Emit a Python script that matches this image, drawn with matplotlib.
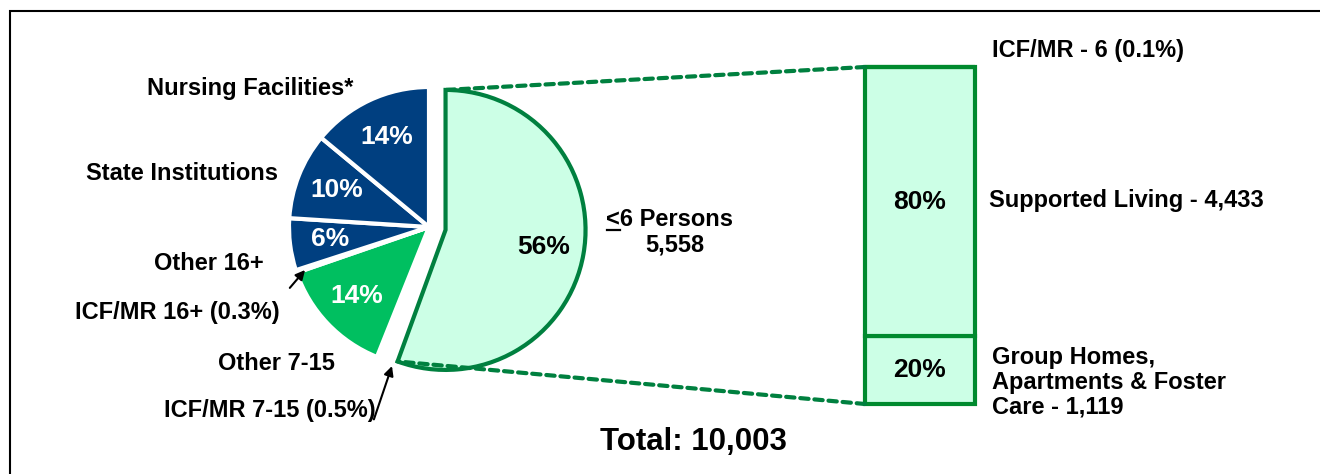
import numpy as np
import matplotlib
matplotlib.use('Agg')
import matplotlib.pyplot as plt
from matplotlib.patches import ConnectionPatch, Rectangle
from matplotlib.lines import Line2D

plt.rcParams['font.family'] = ['Liberation Sans', 'DejaVu Sans']
plt.rcParams['font.weight'] = 'bold'

# residential settings (counts), pie goes clockwise from 12 o'clock
pie_labels = ['<6 Persons', 'ICF/MR 7-15', 'Other 7-15', 'ICF/MR 16+',
              'Other 16+', 'State Institutions', 'Nursing Facilities*']
pie_counts = [5558, 50, 1365, 30, 600, 1000, 1400]
pie_colors = ['#CCFFE6', 'white', '#00BF60', 'white', '#003F80', '#003F80', '#003F80']
pct_colors = ['black', 'white', 'white', 'white', 'white', 'white', 'white']

# breakdown of the <6 persons group (bottom to top)
bar_labels = ['Group Homes,\nApartments & Foster\nCare - 1,119',
              'Supported Living - 4,433', 'ICF/MR - 6 (0.1%)']
bar_counts = [1119, 4433, 6]

total = sum(pie_counts)

W, H = 1320, 474
fig = plt.figure(figsize=(W / 100, H / 100), dpi=100)


def fx(x, y):
    # pixel position (from top left) -> figure fraction
    return x / W, 1 - y / H


# outer frame (right and bottom run off the picture)
fig.patches.append(Rectangle((9.5 / W, -0.2), 2, 1.2 - 11 / H, transform=fig.transFigure,
                             fill=False, edgecolor='black', lw=1.5))

# ---- pie ----
R = 140  # pie radius in pixels
cx, cy = 429, 227
half = 200
ax = fig.add_axes([(cx - half) / W, (H - cy - half) / H, 2 * half / W, 2 * half / H])
explode = [0.12, 0, 0, 0, 0, 0, 0]


def pct_fmt(p):
    return f'{p:.0f}%' if p >= 1 else ''


wedges, _, autotexts = ax.pie(pie_counts, explode=explode, colors=pie_colors, startangle=90,
                              counterclock=False, autopct=pct_fmt, pctdistance=0.71,
                              wedgeprops=dict(edgecolor='white', linewidth=3))
wedges[0].set_edgecolor('#00803F')
wedges[0].set_linewidth(3)
for t, c in zip(autotexts, pct_colors):
    t.set_color(c)
    t.set_fontsize(19)
    t.set_fontweight('bold')
ax.set_xlim(-half / R, half / R)
ax.set_ylim(-half / R, half / R)
ax.set_aspect('equal')
ax.axis('off')

lab_kw = dict(fontsize=17, fontweight='bold', ha='center', va='center')
fig.text(*fx(250, 88), 'Nursing Facilities*', **lab_kw)
fig.text(*fx(182, 174), 'State Institutions', **lab_kw)
fig.text(*fx(209, 263), 'Other 16+', **lab_kw)
fig.text(*fx(177, 312), 'ICF/MR 16+ (0.3%)', **lab_kw)
fig.text(*fx(276, 363), 'Other 7-15', **lab_kw)
fig.text(*fx(270, 410), 'ICF/MR 7-15 (0.5%)', **lab_kw)

# "<6 Persons" with an underlined "<" (reads as "less than or equal")
small_lab = fig.text(*fx(670, 219), '<6 Persons', **lab_kw)
fig.text(*fx(675, 245), '5,558', **lab_kw)
fig.canvas.draw()
bb = small_lab.get_window_extent()
lt = fig.text(0, 0, '<', fontsize=17, fontweight='bold')
lt_w = lt.get_window_extent().width
lt.remove()
fig.add_artist(Line2D([bb.x0 / W, (bb.x0 + lt_w) / W], [1 - 230 / H, 1 - 230 / H],
                      transform=fig.transFigure, color='black', lw=1.6))


def edge_point(w, ang, r=1.0):
    a = np.deg2rad(ang)
    return w.center[0] + r * w.r * np.cos(a), w.center[1] + r * w.r * np.sin(a)


# arrows to the two tiny ICF/MR slices
w16 = wedges[3]
head16 = edge_point(w16, (w16.theta1 + w16.theta2) / 2, 0.92)
ax.annotate('', xy=head16, xycoords='data', xytext=(288, H - 290), textcoords='figure pixels',
            arrowprops=dict(arrowstyle='-|>', color='black', lw=1.5, mutation_scale=14))
p_a = edge_point(wedges[2], wedges[2].theta2)
p_b = edge_point(wedges[0], wedges[0].theta1)
head715 = ((p_a[0] + p_b[0]) / 2 + 0.04, (p_a[1] + p_b[1]) / 2 - 0.03)
ax.annotate('', xy=head715, xycoords='data', xytext=(373, H - 422), textcoords='figure pixels',
            arrowprops=dict(arrowstyle='-|>', color='black', lw=1.5, mutation_scale=14))

# ---- stacked bar ----
bx0, bx1, by0, by1 = 865, 975, 67, 404
bax = fig.add_axes([bx0 / W, (H - by1) / H, (bx1 - bx0) / W, (by1 - by0) / H])
sub_total = sum(bar_counts)
bottom = 0
for cnt in bar_counts:
    bax.bar(0, cnt, width=1, bottom=bottom, color='#CCFFE6', edgecolor='#008A2E',
            linewidth=3, clip_on=False)
    pct = cnt / sub_total * 100
    if pct >= 1:
        bax.text(0, bottom + cnt / 2, f'{pct:.0f}%', ha='center', va='center',
                 fontsize=19, fontweight='bold')
    bottom += cnt
bax.set_xlim(-0.5, 0.5)
bax.set_ylim(0, sub_total)
bax.axis('off')

fig.text(*fx(992, 51), bar_labels[2], fontsize=17, fontweight='bold', ha='left', va='center')
fig.text(*fx(989, 200), bar_labels[1], fontsize=17, fontweight='bold', ha='left', va='center')
fig.text(*fx(992, 382), bar_labels[0], fontsize=17, fontweight='bold', ha='left', va='center',
         linespacing=1.1, multialignment='left')

# dashed connectors from the exploded slice to the bar
w0 = wedges[0]
top_pt = edge_point(w0, w0.theta2)
bot_pt = edge_point(w0, w0.theta1)
for pie_pt, bar_pt in [(top_pt, (-0.5, sub_total)), (bot_pt, (-0.5, 0))]:
    con = ConnectionPatch(xyA=bar_pt, coordsA=bax.transData, xyB=pie_pt, coordsB=ax.transData,
                          color='#00803F', linewidth=3, linestyle=(0, (2, 1.4)))
    fig.add_artist(con)

fig.text(*fx(693, 442), f'Total: {total:,}', fontsize=22.5, fontweight='bold',
         ha='center', va='center')

fig.savefig('out.png', dpi=100)
